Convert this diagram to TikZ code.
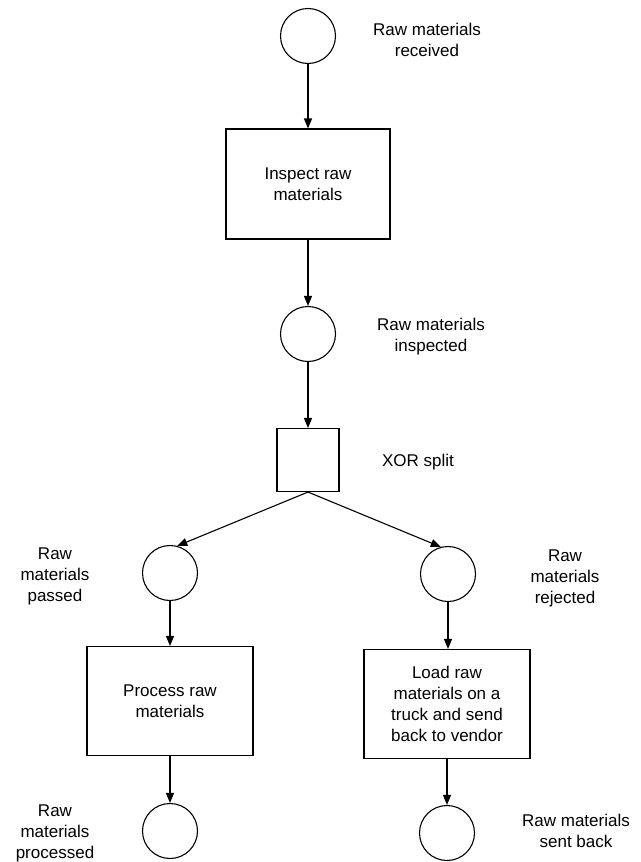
\documentclass[tikz,border=0pt]{standalone}
\usepackage{fontspec}
\setmainfont{Liberation Sans}
\usetikzlibrary{arrows.meta}
\begin{document}
\begin{tikzpicture}[x=1pt,y=-1pt,
  place/.style={draw, circle, minimum size=55pt, inner sep=0pt, line width=1.1pt},
  trans/.style={draw, rectangle, line width=1.1pt, inner sep=0pt, align=center,
                font=\fontsize{17}{21}\selectfont},
  lbl/.style={align=center, inner sep=0pt, font=\fontsize{17}{21}\selectfont},
  flow/.style={-{Triangle[length=10pt,width=8pt]}, line width=1.1pt}]
\useasboundingbox (0,0) rectangle (640,862);

% places (circles) and transitions (boxes)
\node[place] (p1) at (308,36) {};
\node[trans, minimum width=164pt, minimum height=110pt] (t1) at (308,184) {Inspect raw\\materials};
\node[place] (p2) at (308,334) {};
\node[trans, minimum width=62pt, minimum height=63pt] (xor) at (308,460) {};
\node[place] (p3) at (170,573) {};
\node[place] (p4) at (448,574) {};
\node[trans, minimum width=166pt, minimum height=109pt] (t2) at (170,701) {Process raw\\materials};
\node[trans, minimum width=166pt, minimum height=109pt] (t3) at (447,704) {Load raw\\materials on a\\truck and send\\back to vendor};
\node[place] (p5) at (170,831) {};
\node[place] (p6) at (447,833) {};

% labels
\node[lbl] (l1) at (427,40) {Raw materials\\received};
\node[lbl] (l2) at (431,337) {Raw materials\\inspected};
\node[lbl] (l3) at (418,462) {XOR split};
\node[lbl] (l4) at (55,576) {Raw\\materials\\passed};
\node[lbl] (l5) at (565,578) {Raw\\materials\\rejected};
\node[lbl] (l6) at (55,833) {Raw\\materials\\processed};
\node[lbl] (l7) at (576,831) {Raw materials\\sent back};

% flow arcs
\draw[flow] (p1) -- (t1);
\draw[flow] (t1) -- (p2);
\draw[flow] (p2) -- (xor);
\draw[flow] (xor.south) -- (p3.75);
\draw[flow] (xor.south) -- (p4.105);
\draw[flow] (p3) -- (t2);
\draw[flow] (p4) -- (t3.north -| p4);
\draw[flow] (t2) -- (p5);
\draw[flow] (t3) -- (p6);
\end{tikzpicture}
\end{document}
